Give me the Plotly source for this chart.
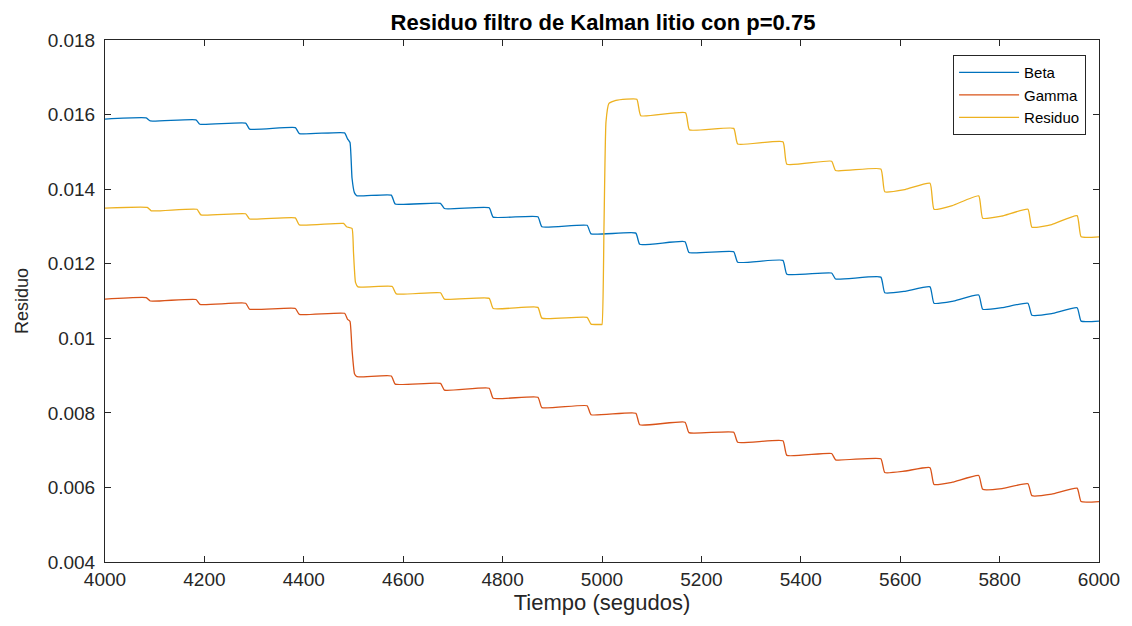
import plotly.graph_objects as go

# ---- data ----
beta_t = [4000, 4083, 4091, 4183, 4191, 4283, 4291, 4383, 4391, 4482, 4488, 4493, 4497, 4502, 4507,
          4576, 4584, 4675, 4683, 4773, 4781, 4871, 4879, 4970, 4978, 5068, 5076, 5167, 5175,
          5265, 5273, 5364, 5372, 5462, 5470, 5561, 5569, 5610, 5660, 5668, 5705, 5758, 5766,
          5805, 5857, 5865, 5905, 5956, 5964, 6000]
beta_v = [0.01588, 0.01591, 0.01583, 0.01586, 0.01574, 0.01577, 0.01561, 0.01565, 0.01549, 0.01551,
          0.01535, 0.01525, 0.01430, 0.01390, 0.01382,
          0.01384, 0.01360, 0.01362, 0.01348, 0.01350, 0.01325, 0.01326, 0.01299, 0.01303, 0.01280,
          0.01282, 0.01252, 0.01259, 0.01230,
          0.01232, 0.01204, 0.01209, 0.01172, 0.01175, 0.01159, 0.01164, 0.01122, 0.01126, 0.01138,
          0.01094, 0.01099, 0.01116, 0.01078,
          0.01082, 0.01094, 0.01062, 0.01066, 0.01082, 0.01046, 0.01046]

gamma_t = [4000, 4083, 4091, 4183, 4191, 4283, 4291, 4383, 4391, 4482, 4488, 4493, 4497, 4502, 4507,
           4576, 4584, 4675, 4683, 4773, 4781, 4871, 4879, 4970, 4978, 5068, 5076, 5167, 5175,
           5265, 5273, 5364, 5372, 5462, 5470, 5561, 5569, 5610, 5660, 5668, 5705, 5758, 5766,
           5805, 5857, 5865, 5905, 5956, 5964, 6000]
gamma_v = [0.01105, 0.01109, 0.01100, 0.01104, 0.01091, 0.01094, 0.01078, 0.01080, 0.01064, 0.01067,
           0.01051, 0.01045, 0.00970, 0.00905, 0.00897,
           0.00899, 0.00877, 0.00879, 0.00861, 0.00866, 0.00839, 0.00842, 0.00814, 0.00819, 0.00795,
           0.00799, 0.00768, 0.00775, 0.00747,
           0.00748, 0.00721, 0.00725, 0.00686, 0.00691, 0.00674, 0.00677, 0.00640, 0.00644, 0.00653,
           0.00608, 0.00614, 0.00632, 0.00595,
           0.00597, 0.00610, 0.00578, 0.00582, 0.00598, 0.00562, 0.00562]

residuo_t = [4000, 4085, 4093, 4185, 4193, 4283, 4291, 4383, 4391, 4480, 4486, 4497, 4500, 4504, 4509,
             4578, 4586, 4675, 4683, 4773, 4781, 4871, 4879, 4970, 4978, 4998, 5000, 5004, 5008, 5014,
             5028, 5070, 5078, 5168, 5176, 5265, 5273, 5364, 5372, 5462, 5470, 5561, 5569, 5610, 5660,
             5668, 5705, 5758, 5766, 5805, 5857, 5865, 5905, 5956, 5964, 6000]
residuo_v = [0.01349, 0.01351, 0.01342, 0.01346, 0.01331, 0.01334, 0.01320, 0.01323, 0.01304, 0.01308,
             0.01299, 0.01295, 0.01230, 0.01150, 0.01138,
             0.01139, 0.01119, 0.01122, 0.01105, 0.01107, 0.01080, 0.01083, 0.01054, 0.01056, 0.01038,
             0.01037, 0.01037, 0.01300, 0.01580, 0.01630,
             0.01638, 0.01641, 0.01597, 0.01605, 0.01559, 0.01563, 0.01521, 0.01527, 0.01467, 0.01475,
             0.01450, 0.01454, 0.01393, 0.01399, 0.01416,
             0.01346, 0.01356, 0.01382, 0.01322, 0.01328, 0.01346, 0.01298, 0.01305, 0.01329, 0.01272,
             0.01272]

x_ticks = [4000, 4200, 4400, 4600, 4800, 5000, 5200, 5400, 5600, 5800, 6000]
y_ticks = [0.004, 0.006, 0.008, 0.010, 0.012, 0.014, 0.016, 0.018]
y_tick_text = ["0.004", "0.006", "0.008", "0.01", "0.012", "0.014", "0.016", "0.018"]

series = [("Beta", beta_t, beta_v, "#0072BD"),
          ("Gamma", gamma_t, gamma_v, "#D95319"),
          ("Residuo", residuo_t, residuo_v, "#EDB120")]

fig = go.Figure()
for name, t, v, c in series:
    fig.add_trace(go.Scatter(x=t, y=v, mode="lines", name=name,
                             line=dict(color=c, width=1.3, shape="spline", smoothing=0.4)))

axis_color = "#262626"
font_family = "Liberation Sans, Arial, sans-serif"

# page body has an 8px margin: figure is sized/margined to put the axes at the reference pixels
W, H = 1124, 618
L, R, T, B = 97, 31, 32, 64
fig.update_layout(
    width=W, height=H,
    paper_bgcolor="white", plot_bgcolor="white",
    margin=dict(l=L, r=R, t=T, b=B),
    title=dict(text="<b>Residuo filtro de Kalman litio con p=0.75</b>",
               x=(L + (W - L - R) / 2) / W, xanchor="center", y=1 - 14 / H, yanchor="middle",
               font=dict(family=font_family, size=22, color="black")),
    font=dict(family=font_family, size=19, color=axis_color),
    showlegend=True,
    legend=dict(x=0.987, y=0.971, xanchor="right", yanchor="top",
                bgcolor="white", bordercolor=axis_color, borderwidth=1,
                font=dict(family=font_family, size=15, color="black"),
                itemwidth=60, tracegroupgap=0),
)

fig.update_xaxes(range=[4000, 6000], tickvals=x_ticks, ticks="inside", ticklen=6,
                 tickcolor=axis_color, showline=True, linecolor=axis_color, linewidth=1,
                 mirror="ticks", showgrid=False, zeroline=False,
                 title=dict(text="Tiempo (segudos)", standoff=5,
                            font=dict(family=font_family, size=22, color=axis_color)),
                 tickfont=dict(family=font_family, size=19, color=axis_color))
fig.update_yaxes(range=[0.004, 0.018], tickvals=y_ticks, ticktext=y_tick_text,
                 ticks="inside", ticklen=6, ticklabelstandoff=5,
                 tickcolor=axis_color, showline=True, linecolor=axis_color, linewidth=1,
                 mirror="ticks", showgrid=False, zeroline=False,
                 title=dict(text="Residuo", standoff=14,
                            font=dict(family=font_family, size=18, color=axis_color)),
                 tickfont=dict(family=font_family, size=19, color=axis_color))

fig.write_html("out.html")
